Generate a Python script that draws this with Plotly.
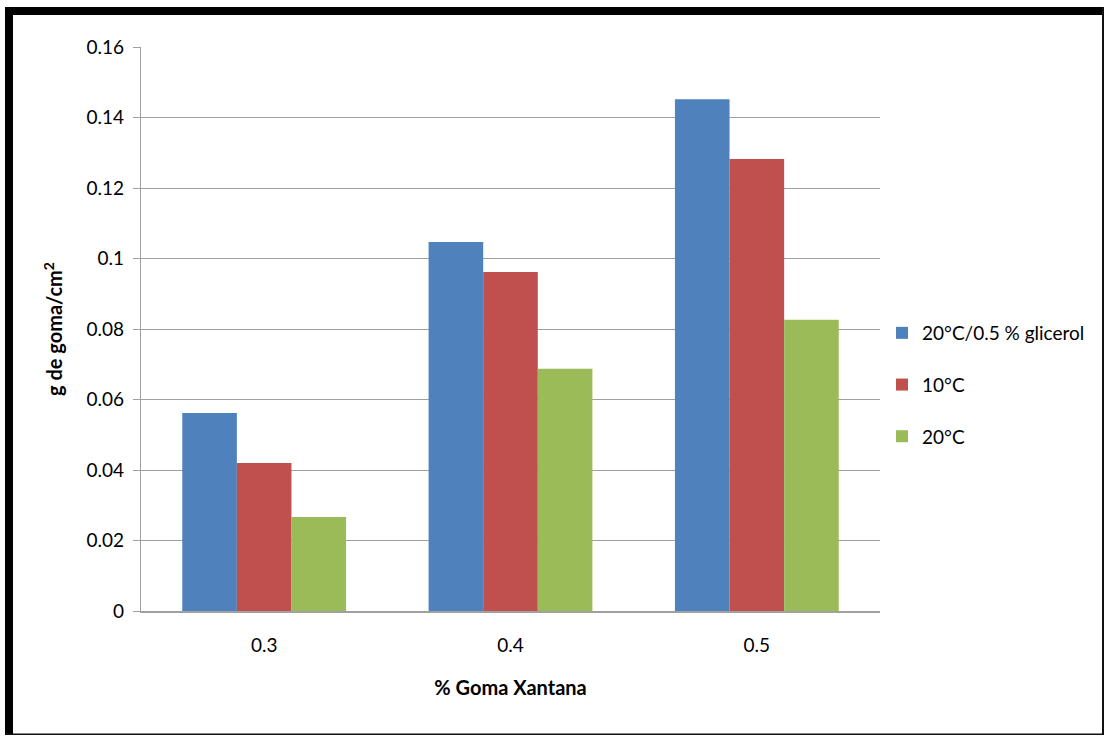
import plotly.graph_objects as go

categories = ["0.3", "0.4", "0.5"]
series_names = ["20°C/0.5 % glicerol", "10°C", "20°C"]
glicerol_20 = [0.0562, 0.1047, 0.1452]
temp_10 = [0.0420, 0.0962, 0.1282]
temp_20 = [0.0267, 0.0687, 0.0826]
colors = ["#4F81BD", "#C0504D", "#9BBB59"]
y_ticks = [0, 0.02, 0.04, 0.06, 0.08, 0.1, 0.12, 0.14, 0.16]
y_tick_text = ["0", "0.02", "0.04", "0.06", "0.08", "0.1", "0.12", "0.14", "0.16"]

W, H = 1105, 736
L, R, T, B = 141, 225, 47, 125
PW, PH = W - L - R, H - T - B

def px_x(p):
    return (p - L) / PW

def px_y(p):
    return (H - B - p) / PH

FONT = "Lato, 'Liberation Sans', sans-serif"

fig = go.Figure()
for name, vals, col in zip(series_names, [glicerol_20, temp_10, temp_20], colors):
    fig.add_trace(go.Bar(x=categories, y=vals, name=name, marker_color=col,
                         marker_line_width=0, legendgroup=name))

shapes = [
    dict(type="rect", xref="paper", yref="paper", x0=px_x(5), x1=px_x(13),
         y0=px_y(735), y1=px_y(7), fillcolor="black", line_width=0, layer="above"),
    dict(type="rect", xref="paper", yref="paper", x0=px_x(5), x1=px_x(1104),
         y0=px_y(15), y1=px_y(7), fillcolor="black", line_width=0, layer="above"),
    dict(type="rect", xref="paper", yref="paper", x0=px_x(1102), x1=px_x(1104),
         y0=px_y(735), y1=px_y(7), fillcolor="#111111", line_width=0, layer="above"),
    dict(type="rect", xref="paper", yref="paper", x0=px_x(5), x1=px_x(1104),
         y0=px_y(735), y1=px_y(733.5), fillcolor="#111111", line_width=0, layer="above"),
]

fig.update_layout(
    width=W, height=H,
    margin=dict(l=L, r=R, t=T, b=B),
    paper_bgcolor="white", plot_bgcolor="white",
    font=dict(family=FONT, size=19, color="#000000"),
    barmode="group", bargap=0.335, bargroupgap=0,
    showlegend=True,
    legend=dict(x=px_x(882), y=px_y(314), xanchor="left", yanchor="top",
                font=dict(size=19, family=FONT), tracegroupgap=24,
                traceorder="grouped", itemwidth=30, bgcolor="rgba(0,0,0,0)"),
    shapes=shapes,
    xaxis=dict(showgrid=False, showline=True, linecolor="#a0a0a0", linewidth=2,
               ticks="", ticklabelstandoff=16, tickfont=dict(size=19),
               title=dict(text="<b>% Goma Xantana</b>", font=dict(size=20), standoff=26)),
    yaxis=dict(range=[0, 0.16], tickvals=y_ticks, ticktext=y_tick_text,
               showgrid=True, gridcolor="#a0a0a0", gridwidth=1.3,
               showline=True, linecolor="#a0a0a0", linewidth=1.3,
               ticks="outside", ticklen=7, tickcolor="#a0a0a0", tickwidth=1.3,
               ticklabelstandoff=5, tickfont=dict(size=19), zeroline=False,
               title=dict(text="<b>g de goma/cm<sup>2</sup></b>", font=dict(size=20), standoff=18)),
)

fig.write_html("out.html")
